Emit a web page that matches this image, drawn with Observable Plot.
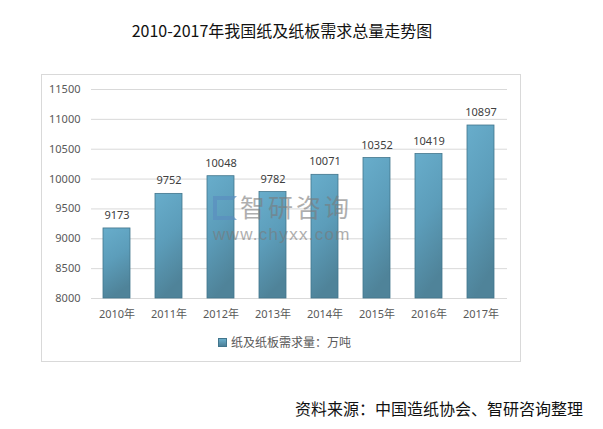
<!DOCTYPE html>
<html><head><meta charset="utf-8">
<script src="https://cdn.jsdelivr.net/npm/d3@7"></script>
<script src="https://cdn.jsdelivr.net/npm/@observablehq/plot@0.6"></script>
<style>
body{margin:0;width:603px;height:429px;background:#fff;font-family:"Noto Sans CJK SC","Noto Sans",sans-serif;position:relative;overflow:hidden}
#title{position:absolute;left:0;width:564px;top:19px;text-align:center;font-size:16px;line-height:22px;color:#111}
#frame{position:absolute;left:41px;top:74px;width:478px;height:286px;border:1px solid #d9d9d9}
#chart{position:absolute;left:0;top:0}
#legend{position:absolute;left:176px;top:258px;font-size:12px;line-height:18px;color:#595959;display:flex;align-items:center}
#legend .sw{width:7px;height:7px;background:linear-gradient(#6aaecb,#4d8098);border:0.5px solid #41758c;margin-right:4px}
.wm{position:absolute;color:#7a7a7a;opacity:0.6;pointer-events:none;white-space:nowrap}
#wmA{left:198px;top:118.5px;font-size:25px;line-height:25px;letter-spacing:3px}
#wmB{left:171px;top:151px;font-family:"Liberation Sans",Arial,sans-serif;font-size:17px;line-height:17px;letter-spacing:1.3px}
#wmLogo{position:absolute;left:171px;top:121px;width:24px;height:24px;border:4px solid #5b8fc0;box-sizing:border-box;border-right-color:transparent;opacity:0.7}
#source{position:absolute;right:20px;top:397px;font-size:16px;line-height:22px;color:#111}
</style></head>
<body>
<div id="title">2010-2017年我国纸及纸板需求总量走势图</div>
<div id="frame">
  <div id="chart"></div>
  <div id="wmLogo"></div>
  <div class="wm" id="wmA">智研咨询</div>
  <div class="wm" id="wmB">www.chyxx.com</div>
  <div id="legend"><div class="sw"></div><span>纸及纸板需求量：万吨</span></div>
</div>
<div id="source">资料来源：中国造纸协会、智研咨询整理</div>
<script>
const years = ["2010年","2011年","2012年","2013年","2014年","2015年","2016年","2017年"];
const demand = [9173, 9752, 10048, 9782, 10071, 10352, 10419, 10897];
const yTicks = [8000, 8500, 9000, 9500, 10000, 10500, 11000, 11500];

const data = years.map((y, i) => ({year: y, value: demand[i]}));
const yMin = yTicks[0], yMax = yTicks[yTicks.length - 1];

const plot = Plot.plot({
  width: 478,
  height: 250,
  marginLeft: 49,
  marginRight: 13,
  marginTop: 14,
  marginBottom: 27,
  style: {fontFamily: '"Noto Sans","Noto Sans CJK SC",sans-serif', color: "#595959", background: "transparent"},
  x: {domain: years, paddingInner: 0.48, paddingOuter: 0.24, label: null},
  y: {domain: [yMin, yMax], label: null},
  marks: [
    Plot.ruleY(yTicks, {stroke: "#d9d9d9", strokeWidth: 1}),
    Plot.barY(data, {x: "year", y1: () => yMin, y2: "value", fill: "url(#barGrad)", stroke: "#41758c", strokeWidth: 0.8}),
    Plot.text(data, {x: "year", y: "value", text: d => String(d.value), dy: -13, fontSize: 11, fill: "#404040"}),
    Plot.axisY({ticks: yTicks, tickSize: 0, tickPadding: 11, fontSize: 11, tickFormat: d => String(d)}),
    Plot.axisX({tickSize: 0, tickPadding: 12, fontSize: 11})
  ]
});
plot.insertAdjacentHTML("afterbegin",
  '<defs><linearGradient id="barGrad" x1="0" y1="0" x2="0.25" y2="1">' +
  '<stop offset="0" stop-color="#68adcb"/><stop offset="0.5" stop-color="#5c9dba"/><stop offset="1" stop-color="#4f8399"/>' +
  '</linearGradient></defs>');
document.getElementById("chart").appendChild(plot);
</script>
</body></html>
